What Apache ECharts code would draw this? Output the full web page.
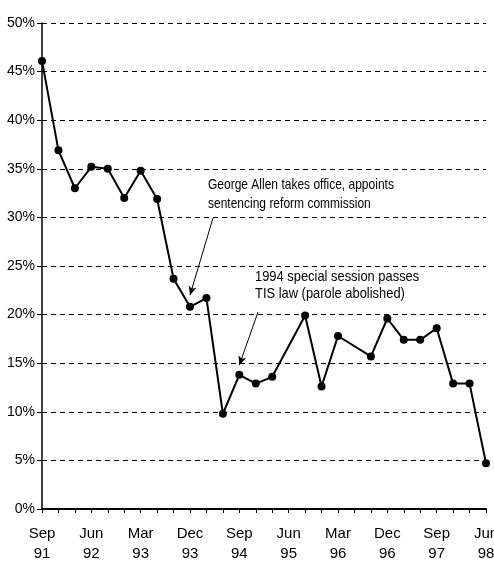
<!DOCTYPE html>
<html>
<head>
<meta charset="utf-8">
<script src="https://cdn.jsdelivr.net/npm/echarts@6/dist/echarts.min.js"></script>
<style>
html,body{margin:0;padding:0;background:#fff;}
.box{width:494px;height:565px;}
</style>
</head>
<body>
<div class="box"></div>
<script>
// quarterly, Sep 91 .. Jun 98
const quarters = [
    "Sep 91","Dec 91","Mar 92","Jun 92","Sep 92","Dec 92","Mar 93","Jun 93",
    "Sep 93","Dec 93","Mar 94","Jun 94","Sep 94","Dec 94","Mar 95","Jun 95",
    "Sep 95","Dec 95","Mar 96","Jun 96","Sep 96","Dec 96","Mar 97","Jun 97",
    "Sep 97","Dec 97","Mar 98","Jun 98"
];
const rates = [
    46.1, 36.9, 33.0, 35.2, 35.0, 32.0, 34.8, 31.9,
    23.7, 20.8, 21.7, 9.8, 13.8, 12.9, 13.6, null,
    19.9, 12.6, 17.8, null, 15.7, 19.6, 17.4, 17.4,
    18.6, 12.9, 12.9, 4.7
];
const yTicks = [0, 5, 10, 15, 20, 25, 30, 35, 40, 45, 50];

const font = "'Liberation Sans', Arial, sans-serif";

let mycharts = echarts.init(document.querySelector(".box"));
mycharts.setOption({
    backgroundColor:"#fff",
    animation:false,
    grid:{
        left:42,
        right:8,
        top:23,
        bottom:56,
        outerBoundsMode:"none"
    },
    xAxis:{
        type:"category",
        data:quarters,
        boundaryGap:false,
        axisLine:{lineStyle:{color:"#000",width:2}},
        axisTick:{interval:0,length:4,lineStyle:{color:"#000"}},
        axisLabel:{
            interval:2,
            color:"#000",
            fontFamily:font,
            fontSize:15,
            lineHeight:20,
            margin:15,
            formatter:function(v){ return v.replace(" ","\n"); }
        },
        splitLine:{show:false}
    },
    yAxis:{
        type:"value",
        min:yTicks[0],
        max:yTicks[yTicks.length-1],
        interval:5,
        axisLine:{show:true,lineStyle:{color:"#000",width:1.5}},
        axisTick:{show:true,length:5,lineStyle:{color:"#000"}},
        axisLabel:{
            color:"#000",
            fontFamily:font,
            fontSize:14,
            margin:7,
            formatter:"{value}%"
        },
        splitLine:{
            show:true,
            lineStyle:{color:"#000",type:[5,4],width:1}
        }
    },
    graphic:[
        {
            type:"text",
            x:208,
            y:175,
            scaleX:0.8,
            style:{
                text:"George Allen takes office, appoints\nsentencing reform commission",
                fill:"#000",
                font:"15px " + font,
                lineHeight:19
            }
        },
        {
            type:"text",
            x:255,
            y:268,
            scaleX:0.86,
            style:{
                text:"1994 special session passes\nTIS law (parole abolished)",
                fill:"#000",
                font:"15px " + font,
                lineHeight:17
            }
        }
    ],
    series:[
        {
            type:"line",
            data:rates,
            connectNulls:true,
            symbol:"circle",
            symbolSize:8,
            itemStyle:{color:"#000"},
            lineStyle:{color:"#000",width:2},
            markLine:{
                silent:true,
                symbol:["none","arrow"],
                symbolSize:[6,9],
                label:{show:false},
                lineStyle:{color:"#000",width:1,type:"solid"},
                data:[
                    [{x:213,y:218},{coord:["Dec 93",22]}],
                    [{x:258,y:312},{coord:["Sep 94",14.8]}]
                ]
            }
        }
    ]
});
</script>
</body>
</html>
